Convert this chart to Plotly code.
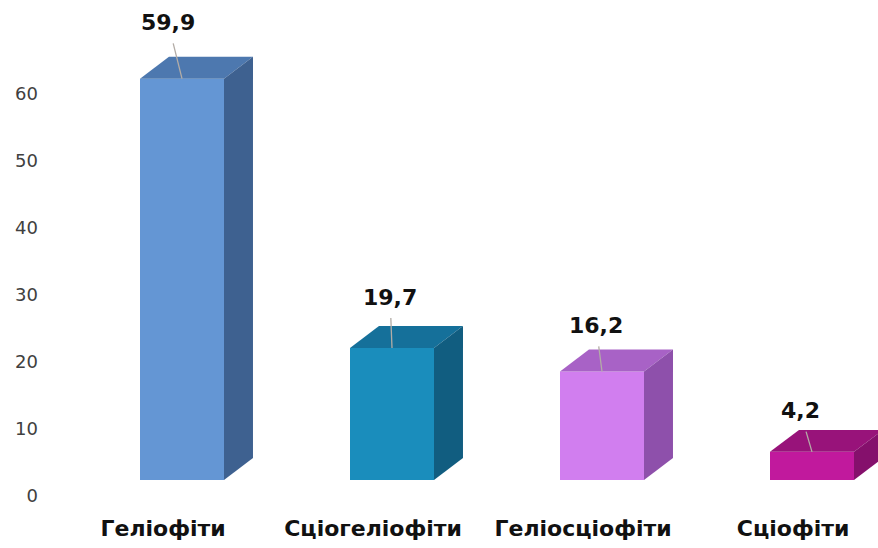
import numpy as np
import plotly.graph_objects as go

# ---- data ----
categories = ["Геліофіти", "Сціогеліофіти", "Геліосціофіти", "Сціофіти"]
values = [59.9, 19.7, 16.2, 4.2]
value_labels = ["59,9", "19,7", "16,2", "4,2"]
y_ticks = [0, 10, 20, 30, 40, 50, 60]

# ---- styles ----
front_colors = ["#6496D4", "#1A8DBC", "#D17EEF", "#C1199D"]
top_colors = ["#4D78AF", "#15709A", "#A862C6", "#98137A"]
side_colors = ["#3E6190", "#115D80", "#8E50AB", "#85106C"]
label_offsets = [(-14, -56), (-2, -51), (-6, -46), (-12, -41)]

bar_w = 0.4
depth_x = 0.138
depth_y = 3.28

pos = np.arange(len(categories))

fig = go.Figure()

# front faces
fig.add_trace(go.Bar(
    x=pos, y=values, width=bar_w, marker=dict(color=front_colors, line=dict(width=0)),
    yaxis="y2", showlegend=False, hoverinfo="skip",
))

# top and side faces (3D look)
for i, v in enumerate(values):
    xl = pos[i] - bar_w / 2
    xr = pos[i] + bar_w / 2
    fig.add_trace(go.Scatter(
        x=[xl, xr, xr + depth_x, xl + depth_x, xl],
        y=[v, v, v + depth_y, v + depth_y, v],
        fill="toself", fillcolor=top_colors[i], mode="lines",
        line=dict(width=0, color=top_colors[i]), yaxis="y2",
        showlegend=False, hoverinfo="skip",
    ))
    fig.add_trace(go.Scatter(
        x=[xr, xr, xr + depth_x, xr + depth_x, xr],
        y=[0, v, v + depth_y, depth_y, 0],
        fill="toself", fillcolor=side_colors[i], mode="lines",
        line=dict(width=0, color=side_colors[i]), yaxis="y2",
        showlegend=False, hoverinfo="skip",
    ))

# dummy trace on the visible value axis
fig.add_trace(go.Scatter(x=[pos[0]], y=[0], mode="markers", marker=dict(opacity=0),
                         showlegend=False, hoverinfo="skip"))

for i, v in enumerate(values):
    ax, ay = label_offsets[i]
    fig.add_annotation(
        x=pos[i], y=v, xref="x", yref="y2", text="<b>%s</b>" % value_labels[i],
        showarrow=True, arrowhead=0, arrowwidth=1.3, arrowcolor="#B3ACA6",
        ax=ax, ay=ay, startstandoff=7,
        font=dict(family="DejaVu Sans", size=22, color="#111111"),
    )

W, H = 878, 548
ml, mb = 45, 50
px_per_x = 210.0
x0 = -(182 - ml) / px_per_x
x1 = x0 + (W - ml) / px_per_x
px_per_y = 6.7
plot_h = H - mb
y2_top = 480 / px_per_y
y2_bot = y2_top - plot_h / px_per_y
y_top = 496 / px_per_y
y_bot = y_top - plot_h / px_per_y

fig.update_layout(
    width=W, height=H,
    margin=dict(l=ml, r=0, t=0, b=mb),
    paper_bgcolor="white", plot_bgcolor="white",
    showlegend=False,
    xaxis=dict(
        range=[x0, x1], tickvals=list(pos - 0.09), ticktext=categories,
        showgrid=False, zeroline=False, showline=False, ticks="",
        tickfont=dict(family="DejaVu Sans", size=22, color="#111111", weight="bold"),
        ticklabelstandoff=15,
    ),
    yaxis=dict(
        range=[y_bot, y_top], tickvals=y_ticks, showgrid=False, zeroline=False,
        showline=False, ticks="", ticklabelstandoff=6,
        tickfont=dict(family="DejaVu Sans", size=18, color="#404040"),
    ),
    yaxis2=dict(
        range=[y2_bot, y2_top], overlaying="y", visible=False,
    ),
)

fig.write_html("out.html")
